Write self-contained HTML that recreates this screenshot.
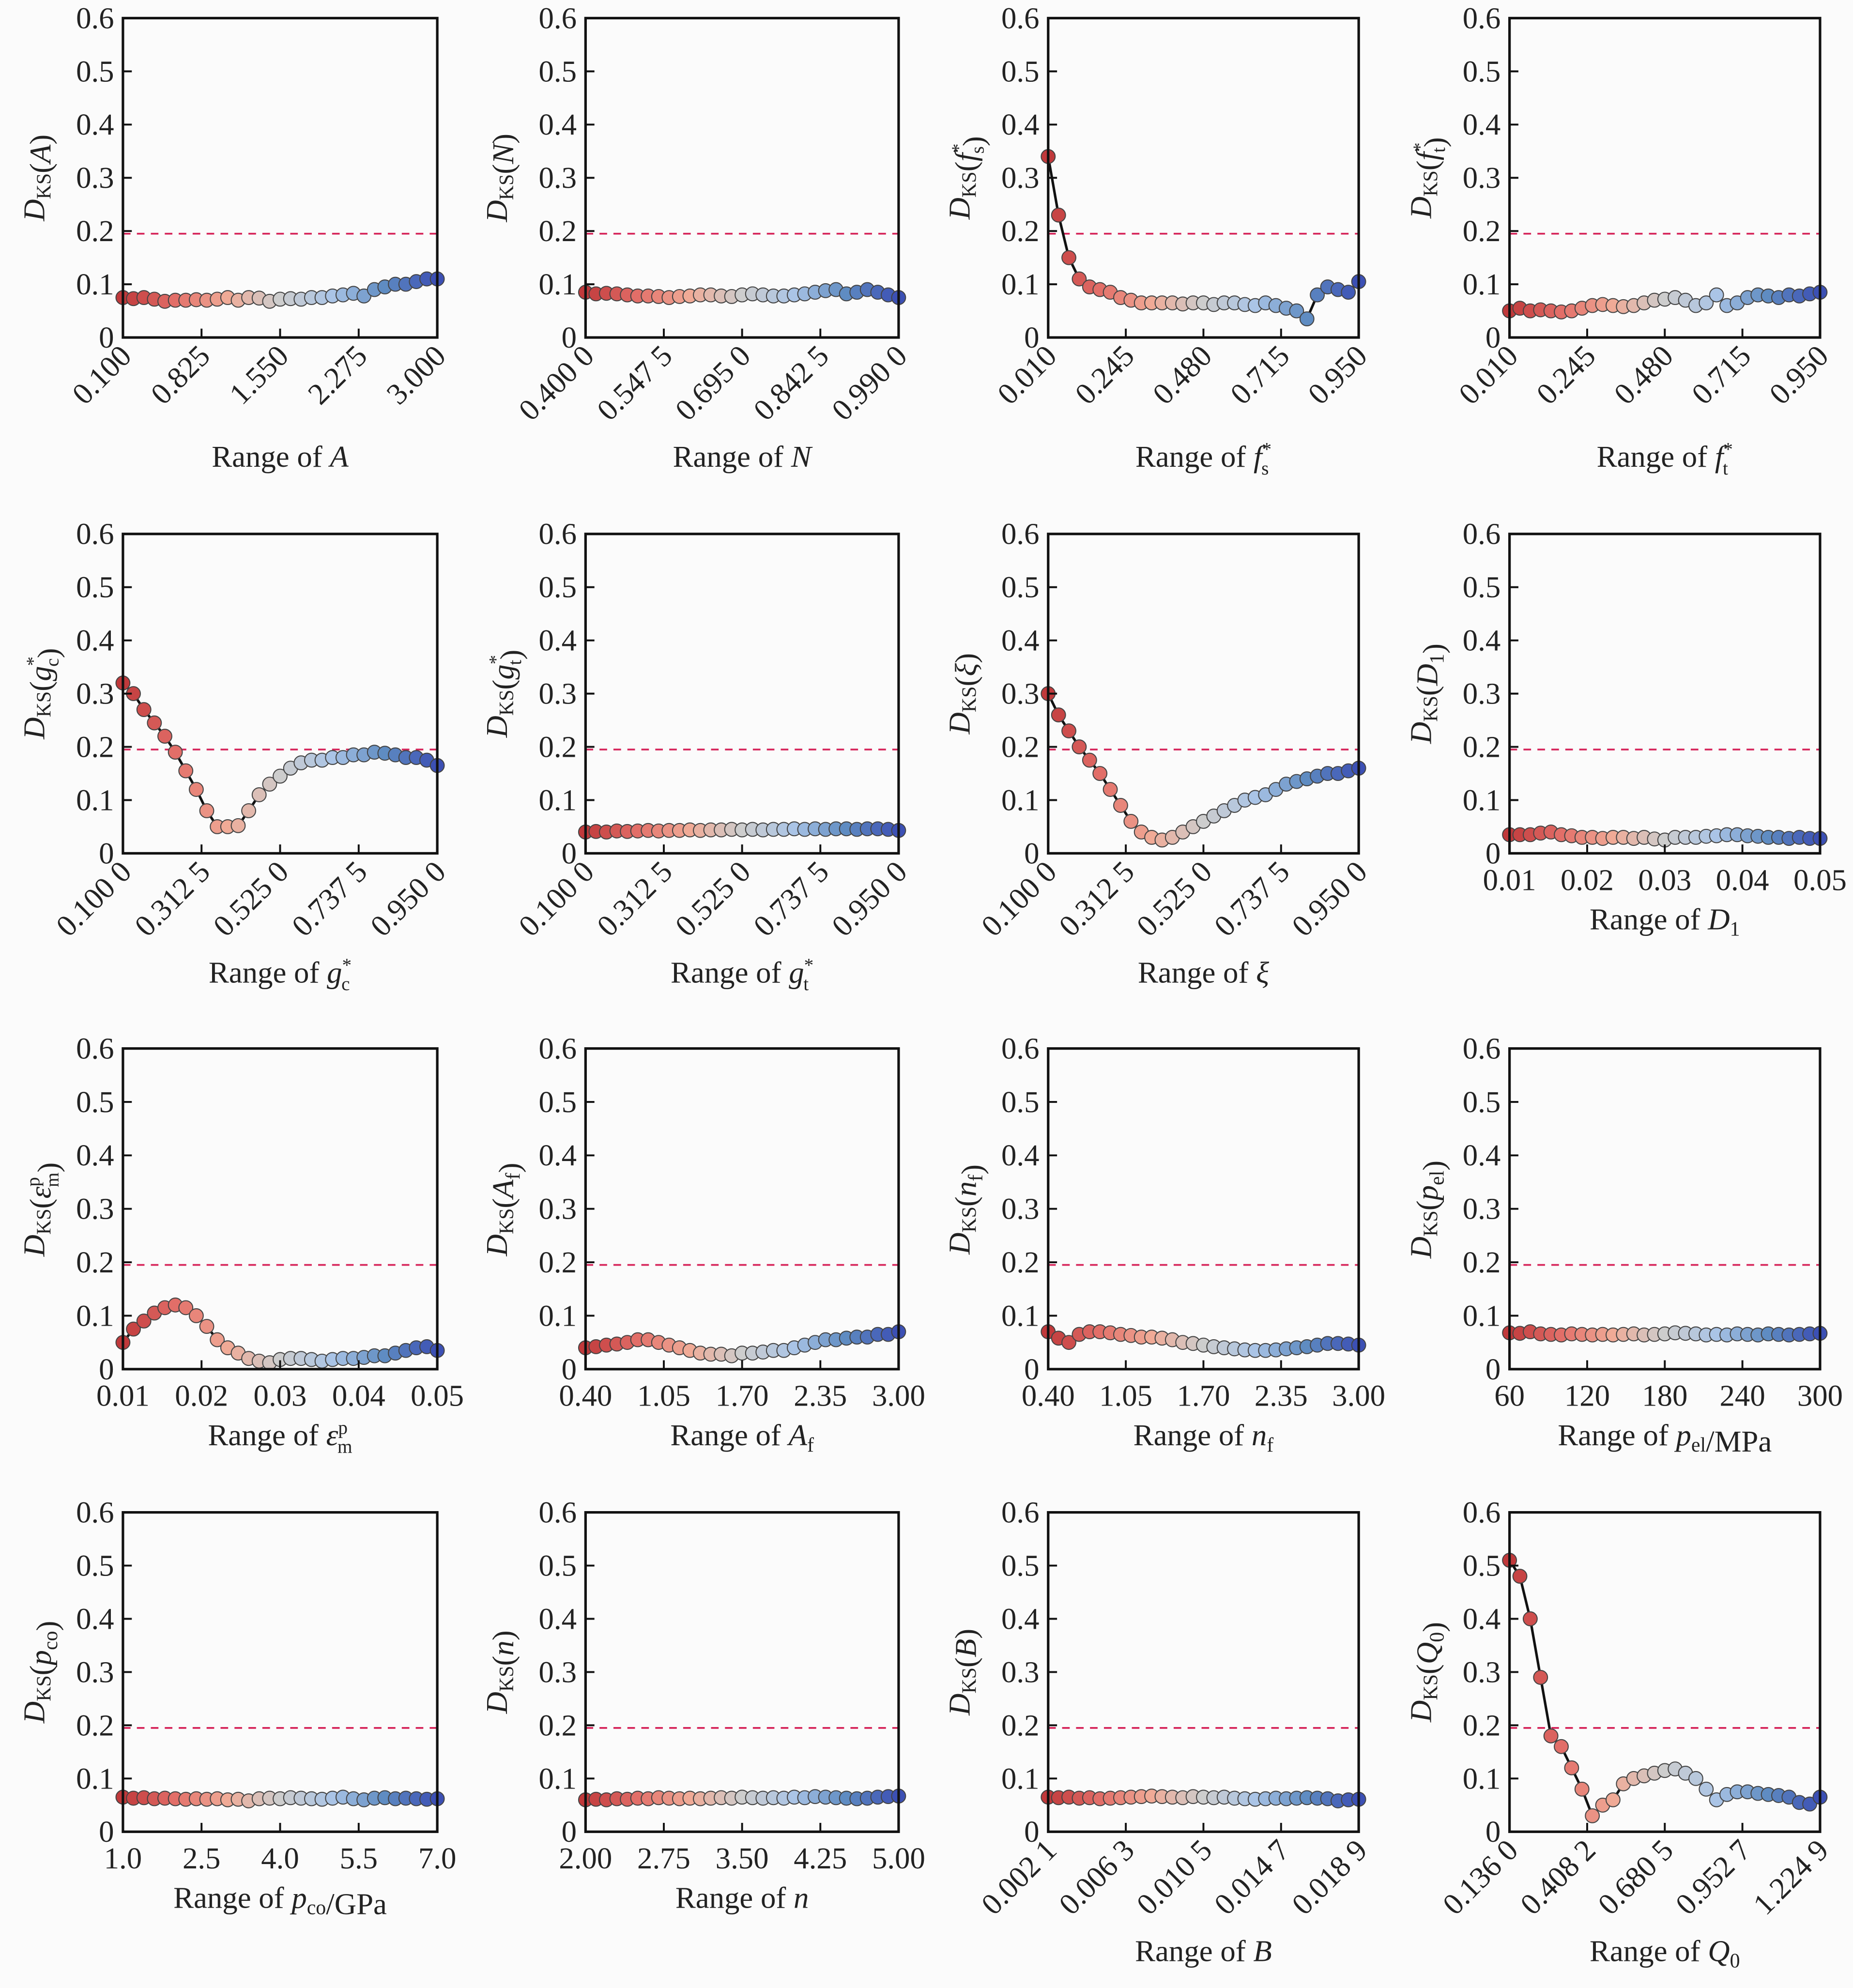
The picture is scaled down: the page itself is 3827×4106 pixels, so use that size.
<!DOCTYPE html>
<html><head><meta charset="utf-8"><title>DKS sensitivity panels</title>
<style>
html,body{margin:0;padding:0;background:#fbfbfb;}
svg{display:block;}
svg text{font-family:"Liberation Serif","DejaVu Serif",serif;fill:#222;}
</style></head>
<body>
<svg id="fig" width="3827" height="4106" viewBox="0 0 1462 1568" xmlns="http://www.w3.org/2000/svg" font-family="Liberation Serif, DejaVu Serif, serif">
<rect x="0" y="0" width="1462" height="1568" fill="#fbfbfb"/>
</svg>
<script>
// ---- data ----
const yA   = [0.075,0.073,0.075,0.072,0.068,0.070,0.070,0.071,0.070,0.072,0.075,0.070,0.075,0.074,0.068,0.072,0.073,0.072,0.075,0.075,0.078,0.080,0.083,0.078,0.090,0.095,0.100,0.100,0.105,0.110,0.110];
const yN   = [0.085,0.082,0.083,0.082,0.080,0.078,0.078,0.077,0.075,0.077,0.078,0.080,0.080,0.078,0.077,0.080,0.082,0.080,0.078,0.078,0.080,0.082,0.085,0.088,0.090,0.082,0.085,0.090,0.085,0.080,0.075];
const yFs  = [0.340,0.230,0.150,0.110,0.095,0.090,0.085,0.075,0.070,0.065,0.065,0.065,0.065,0.063,0.065,0.065,0.062,0.065,0.065,0.062,0.060,0.065,0.060,0.055,0.050,0.035,0.080,0.095,0.090,0.085,0.105];
const yFt  = [0.050,0.055,0.050,0.052,0.050,0.048,0.050,0.055,0.060,0.062,0.060,0.058,0.060,0.065,0.070,0.072,0.075,0.070,0.060,0.065,0.080,0.060,0.065,0.075,0.080,0.078,0.075,0.080,0.078,0.082,0.085];
const yGc  = [0.320,0.300,0.270,0.245,0.220,0.190,0.155,0.120,0.080,0.050,0.050,0.052,0.080,0.110,0.130,0.145,0.160,0.170,0.175,0.175,0.180,0.180,0.185,0.185,0.190,0.188,0.185,0.180,0.180,0.175,0.165];
const yGt  = [0.040,0.041,0.040,0.042,0.041,0.042,0.043,0.042,0.043,0.043,0.044,0.043,0.044,0.044,0.045,0.044,0.045,0.044,0.045,0.045,0.046,0.045,0.046,0.045,0.046,0.046,0.045,0.046,0.046,0.045,0.043];
const yXi  = [0.300,0.260,0.230,0.200,0.175,0.150,0.120,0.090,0.060,0.040,0.030,0.025,0.030,0.040,0.050,0.060,0.070,0.080,0.090,0.100,0.105,0.110,0.120,0.130,0.135,0.140,0.145,0.150,0.150,0.155,0.160];
const yD1  = [0.035,0.035,0.035,0.038,0.040,0.035,0.033,0.030,0.030,0.028,0.030,0.030,0.028,0.030,0.027,0.025,0.030,0.030,0.030,0.032,0.033,0.035,0.035,0.033,0.032,0.030,0.030,0.028,0.030,0.028,0.028];
const yEps = [0.050,0.075,0.090,0.105,0.115,0.120,0.115,0.100,0.080,0.055,0.040,0.030,0.020,0.015,0.012,0.018,0.020,0.020,0.018,0.015,0.018,0.020,0.020,0.022,0.025,0.025,0.030,0.035,0.040,0.042,0.035];
const yAf  = [0.040,0.042,0.045,0.047,0.050,0.055,0.055,0.050,0.045,0.040,0.035,0.030,0.028,0.028,0.025,0.030,0.030,0.032,0.035,0.035,0.040,0.045,0.050,0.055,0.055,0.058,0.060,0.060,0.065,0.065,0.070];
const yNf  = [0.070,0.058,0.050,0.065,0.070,0.070,0.068,0.065,0.063,0.060,0.060,0.058,0.055,0.050,0.048,0.045,0.042,0.040,0.038,0.036,0.035,0.035,0.036,0.038,0.040,0.042,0.045,0.048,0.048,0.047,0.045];
const yPel = [0.068,0.067,0.070,0.066,0.065,0.064,0.066,0.065,0.064,0.065,0.064,0.065,0.066,0.064,0.065,0.066,0.068,0.067,0.066,0.064,0.065,0.064,0.066,0.065,0.064,0.066,0.065,0.064,0.065,0.066,0.067];
const yPco = [0.065,0.063,0.064,0.062,0.063,0.062,0.061,0.062,0.061,0.062,0.060,0.061,0.058,0.062,0.063,0.062,0.064,0.063,0.062,0.061,0.063,0.065,0.062,0.060,0.063,0.064,0.062,0.063,0.062,0.061,0.062];
const yN2  = [0.060,0.061,0.060,0.062,0.061,0.063,0.062,0.064,0.063,0.062,0.063,0.062,0.063,0.064,0.063,0.065,0.064,0.063,0.064,0.063,0.065,0.064,0.066,0.065,0.064,0.063,0.062,0.063,0.065,0.066,0.067];
const yB   = [0.065,0.064,0.065,0.063,0.064,0.062,0.063,0.064,0.065,0.066,0.067,0.066,0.065,0.064,0.066,0.065,0.064,0.065,0.063,0.062,0.061,0.062,0.063,0.062,0.063,0.064,0.063,0.062,0.058,0.060,0.061];
const yQ0  = [0.510,0.480,0.400,0.290,0.180,0.160,0.120,0.080,0.030,0.050,0.060,0.090,0.100,0.105,0.110,0.115,0.118,0.110,0.100,0.080,0.060,0.070,0.075,0.075,0.072,0.070,0.068,0.065,0.055,0.052,0.065];

const ticksA   = ["0.100","0.825","1.550","2.275","3.000"];
const ticksN   = ["0.400 0","0.547 5","0.695 0","0.842 5","0.990 0"];
const ticksF   = ["0.010","0.245","0.480","0.715","0.950"];
const ticksG   = ["0.100 0","0.312 5","0.525 0","0.737 5","0.950 0"];
const ticksD1  = ["0.01","0.02","0.03","0.04","0.05"];
const ticksAf  = ["0.40","1.05","1.70","2.35","3.00"];
const ticksPel = ["60","120","180","240","300"];
const ticksPco = ["1.0","2.5","4.0","5.5","7.0"];
const ticksN2  = ["2.00","2.75","3.50","4.25","5.00"];
const ticksB   = ["0.002 1","0.006 3","0.010 5","0.014 7","0.018 9"];
const ticksQ   = ["0.136 0","0.408 2","0.680 5","0.952 7","1.224 9"];
const yTicks   = [0,0.1,0.2,0.3,0.4,0.5,0.6];
const threshold = 0.195;

const I='<tspan font-style="italic">', E='</tspan>';
const sub = s => '<tspan dy="5" font-size="16">'+s+'</tspan><tspan dy="-5"></tspan>';
const sup = s => '<tspan dy="-9" font-size="16">'+s+'</tspan><tspan dy="9"></tspan>';
const supsub = (a,b) => '<tspan dy="-9" font-size="15">'+a+'</tspan><tspan dx="-8" dy="15" font-size="15">'+b+'</tspan><tspan dy="-6"></tspan>';
const DKS = I+'D'+E+sub('KS');

const panels = [
 {key:'a',  y:yA,  t:ticksA,  rot:true,  yl:DKS+'('+I+'A'+E+')', xl:'Range of '+I+'A'+E},
 {key:'n',  y:yN,  t:ticksN,  rot:true,  yl:DKS+'('+I+'N'+E+')', xl:'Range of '+I+'N'+E},
 {key:'fs', y:yFs, t:ticksF,  rot:true,  yl:DKS+'('+I+'f'+E+supsub('*','s')+')', xl:'Range of '+I+'f'+E+supsub('*','s')},
 {key:'ft', y:yFt, t:ticksF,  rot:true,  yl:DKS+'('+I+'f'+E+supsub('*','t')+')', xl:'Range of '+I+'f'+E+supsub('*','t')},
 {key:'gc', y:yGc, t:ticksG,  rot:true,  yl:DKS+'('+I+'g'+E+supsub('*','c')+')', xl:'Range of '+I+'g'+E+supsub('*','c')},
 {key:'gt', y:yGt, t:ticksG,  rot:true,  yl:DKS+'('+I+'g'+E+supsub('*','t')+')', xl:'Range of '+I+'g'+E+supsub('*','t')},
 {key:'xi', y:yXi, t:ticksG,  rot:true,  yl:DKS+'('+I+'ξ'+E+')', xl:'Range of '+I+'ξ'+E},
 {key:'d1', y:yD1, t:ticksD1, rot:false, yl:DKS+'('+I+'D'+E+sub('1')+')', xl:'Range of '+I+'D'+E+sub('1')},
 {key:'eps',y:yEps,t:ticksD1, rot:false, yl:DKS+'('+I+'ε'+E+supsub('p','m')+')', xl:'Range of '+I+'ε'+E+supsub('p','m')},
 {key:'af', y:yAf, t:ticksAf, rot:false, yl:DKS+'('+I+'A'+E+sub('f')+')', xl:'Range of '+I+'A'+E+sub('f')},
 {key:'nf', y:yNf, t:ticksAf, rot:false, yl:DKS+'('+I+'n'+E+sub('f')+')', xl:'Range of '+I+'n'+E+sub('f')},
 {key:'pel',y:yPel,t:ticksPel,rot:false, yl:DKS+'('+I+'p'+E+sub('el')+')', xl:'Range of '+I+'p'+E+sub('el')+'/MPa'},
 {key:'pco',y:yPco,t:ticksPco,rot:false, yl:DKS+'('+I+'p'+E+sub('co')+')', xl:'Range of '+I+'p'+E+sub('co')+'/GPa'},
 {key:'n2', y:yN2, t:ticksN2, rot:false, yl:DKS+'('+I+'n'+E+')', xl:'Range of '+I+'n'+E},
 {key:'b',  y:yB,  t:ticksB,  rot:true,  yl:DKS+'('+I+'B'+E+')', xl:'Range of '+I+'B'+E},
 {key:'q0', y:yQ0, t:ticksQ,  rot:true,  yl:DKS+'('+I+'Q'+E+sub('0')+')', xl:'Range of '+I+'Q'+E+sub('0')}
];

const cols = [[97,345],[462,709],[827,1072],[1191,1436]];
const rows = [[266,14],[673,421],[1080,827],[1445,1193]];
const cmap = [[192,57,59],[226,110,104],[240,170,150],[205,205,205],[170,196,230],[95,140,194],[60,80,180]];
function color(f){
  const p=f*(cmap.length-1), i=Math.min(Math.floor(p),cmap.length-2), t=p-i;
  const c=cmap[i].map((v,k)=>Math.round(v+(cmap[i+1][k]-v)*t));
  return 'rgb('+c.join(',')+')';
}
const NS='http://www.w3.org/2000/svg';
const FONT='Liberation Serif, DejaVu Serif, serif';
const svg=document.getElementById('fig');
function mk(tag,attrs,parent){const e=document.createElementNS(NS,tag);for(const k in attrs)e.setAttribute(k,attrs[k]);if(tag==='text')e.setAttribute('font-family',FONT);parent.appendChild(e);return e;}

panels.forEach((p,idx)=>{
  const [x0,x1]=cols[idx%4], [y0,y6]=rows[Math.floor(idx/4)];
  const g=mk('g',{},svg);
  
  
  const n=p.y.length;
  const sx=f=>x0+(x1-x0)*f;
  const sy=v=>y0+(y6-y0)*v/0.6;
  const th=mk('line',{x1:x0,x2:x1,y1:sy(threshold),y2:sy(threshold),stroke:'#d6245a','stroke-width':1.4,'stroke-dasharray':'6,5'},g);
  
  
  const pts=p.y.map((v,i)=>sx(i/(n-1)).toFixed(2)+','+sy(v).toFixed(2)).join(' ');
  const pl=mk('polyline',{points:pts,fill:'none',stroke:'#111','stroke-width':2},g);
  
  
  p.y.forEach((v,i)=>{
    const c=mk('circle',{cx:sx(i/(n-1)),cy:sy(v),r:5.5,fill:color(i/(n-1)),stroke:'#444','stroke-width':0.8},g);
    
    
  });
  const fr=mk('rect',{x:x0,y:y6,width:x1-x0,height:y0-y6,fill:'none',stroke:'#111','stroke-width':2},g);
  
  
  yTicks.forEach(v=>{
    mk('line',{x1:x0,x2:x0+7,y1:sy(v),y2:sy(v),stroke:'#111','stroke-width':1.5},g);
    const t=mk('text',{x:x0-7,y:sy(v)+8,'text-anchor':'end','font-size':24},g);
    t.textContent=String(v);
    
    
  });
  p.t.forEach((lab,i)=>{
    const xx=sx(i/(p.t.length-1));
    if(i>0&&i<p.t.length-1) mk('line',{x1:xx,x2:xx,y1:y0,y2:y0-7,stroke:'#111','stroke-width':1.5},g);
    let t;
    if(p.rot){
      t=mk('text',{'text-anchor':'end','font-size':24,transform:'translate('+(xx+8)+','+(y0+16)+') rotate(-45)'},g);
    }else{
      t=mk('text',{x:xx,y:y0+29,'text-anchor':'middle','font-size':24},g);
    }
    t.textContent=lab;
    
    
  });
  const xt=mk('text',{x:(x0+x1)/2,y:y0+(p.rot?102:60),'text-anchor':'middle','font-size':24},g);
  xt.innerHTML=p.xl;
  
  
  const yt=mk('text',{'text-anchor':'middle','font-size':24,transform:'translate('+(x0-62)+','+(y0-126)+') rotate(-90)'},g);
  yt.innerHTML=p.yl;
  
  
});
</script>
</body></html>
